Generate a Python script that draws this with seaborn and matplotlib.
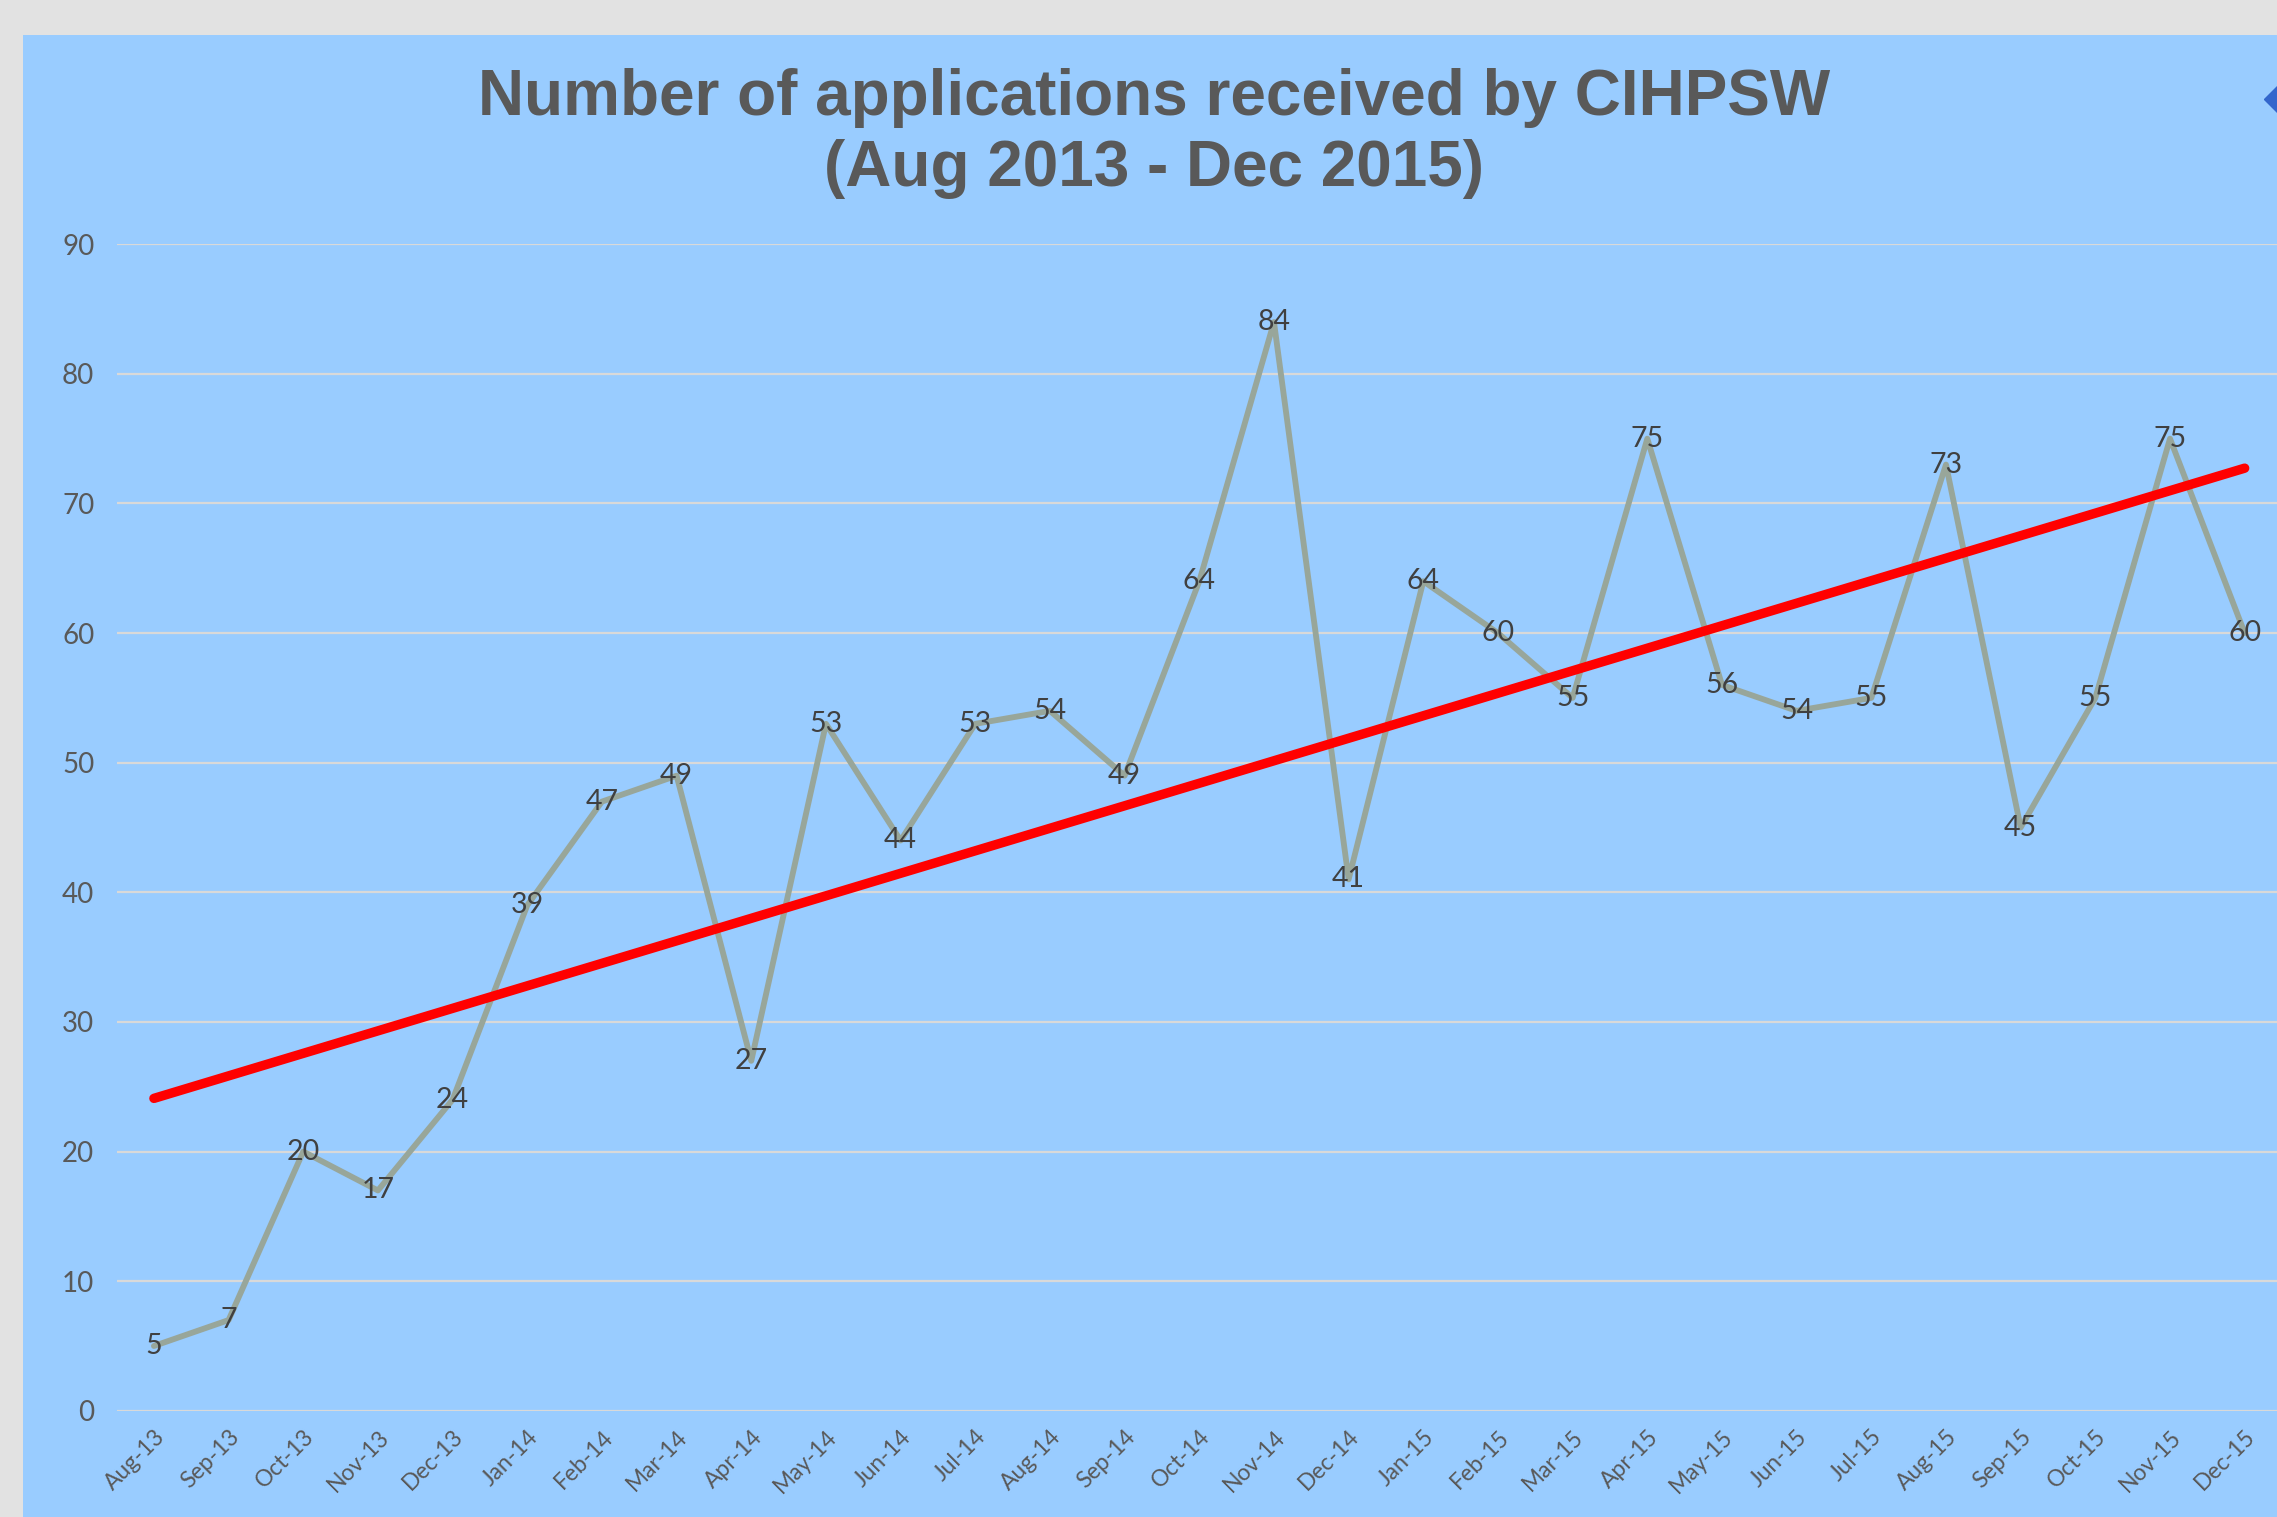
import numpy as np
import pandas as pd
import matplotlib.pyplot as plt
import seaborn as sns
from matplotlib.patches import Rectangle
from matplotlib.lines import Line2D


months = ["Aug-13", "Sep-13", "Oct-13", "Nov-13", "Dec-13",
          "Jan-14", "Feb-14", "Mar-14", "Apr-14", "May-14", "Jun-14",
          "Jul-14", "Aug-14", "Sep-14", "Oct-14", "Nov-14", "Dec-14",
          "Jan-15", "Feb-15", "Mar-15", "Apr-15", "May-15", "Jun-15",
          "Jul-15", "Aug-15", "Sep-15", "Oct-15", "Nov-15", "Dec-15"]
applications = [5, 7, 20, 17, 24, 39, 47, 49, 27, 53, 44, 53, 54, 49, 64,
                84, 41, 64, 60, 55, 75, 56, 54, 55, 73, 45, 55, 75, 60]
y_ticks = [0, 10, 20, 30, 40, 50, 60, 70, 80, 90]

TITLE = "Number of applications received by CIHPSW\n(Aug 2013 - Dec 2015)"

PANEL = "#99CCFF"
TEXT_GREY = "#595959"
LABEL_DARK = "#404040"

df = pd.DataFrame({"pos": np.arange(len(months)), "month": months,
                   "count": applications})

sns.set_style("white")
plt.rcParams["font.family"] = ["Lato", "DejaVu Sans"]

fig = plt.figure(figsize=(22.77, 15.17), dpi=100)
fig.patch.set_facecolor("#E2E2E2")

# blue chart panel, behind everything
fig.patches.append(Rectangle((23 / 2277, 0), 1, 1 - 35 / 1517,
                             transform=fig.transFigure, facecolor=PANEL,
                             edgecolor="none", zorder=-5))

ax = fig.add_axes([0.0512, 0.0700, 0.951, 0.769])
ax.set_facecolor("none")
ax.set_zorder(1)

for t in y_ticks:
    ax.axhline(t, color="#D9D9D9", lw=1.6, zorder=1)

sns.lineplot(data=df, x="pos", y="count", ax=ax, color="#98A69A",
             linewidth=4.2, zorder=2)

sns.regplot(data=df, x="pos", y="count", ax=ax, scatter=False, ci=None,
            line_kws={"color": "#FF0000", "linewidth": 6.8, "zorder": 3})

for x, y in zip(df["pos"], df["count"]):
    ax.text(x, y, str(y), ha="center", va="center", fontsize=20.5,
            color=LABEL_DARK, zorder=4)

ax.set_xlim(-0.5, len(months) - 0.5)
ax.set_ylim(0, 90)
ax.set_yticks(y_ticks)
ax.set_yticklabels([str(t) for t in y_ticks], fontsize=20, color=TEXT_GREY)
ax.set_xticks(df["pos"])
ax.set_xticklabels(months, fontsize=16.5, color=TEXT_GREY, rotation=45,
                   ha="right", rotation_mode="anchor")
ax.tick_params(axis="both", length=0, pad=16)
ax.tick_params(axis="x", pad=11)
ax.set_xlabel("")
ax.set_ylabel("")
sns.despine(ax=ax, left=True, bottom=True)

fig.text(0.507, 0.912, TITLE, ha="center", va="center", fontsize=46,
         fontweight="bold", color=TEXT_GREY, family="Liberation Sans",
         linespacing=1.25)

# clipped legend marker at the right edge
fig.add_artist(Line2D([1.0], [1 - 99 / 1517], marker="D", markersize=13,
                      color="#3366CC", linestyle="none",
                      transform=fig.transFigure))

fig.savefig("out.png", dpi=100, facecolor=fig.get_facecolor())
